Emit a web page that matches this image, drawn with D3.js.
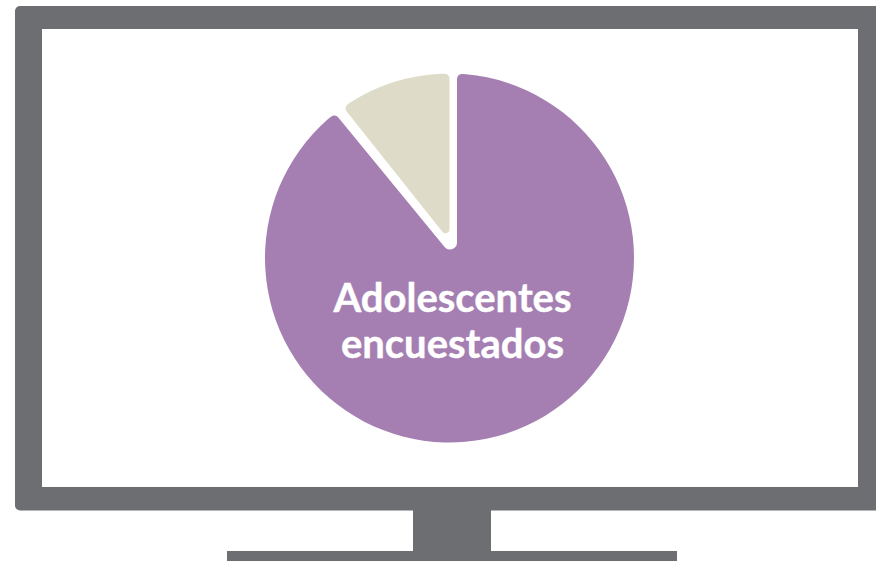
<!DOCTYPE html>
<html>
<head>
<meta charset="utf-8">
<title></title>
<script src="https://cdn.jsdelivr.net/npm/d3@7"></script>
<style>
html, body { margin: 0; padding: 0; background: #fff; }
svg { display: block; }
</style>
</head>
<body>
<script>
// data
var categories = ["Adolescentes encuestados", "Resto"];
var shares = [89.3, 10.7];
var labelLines = ["Adolescentes", "encuestados"];

var width = 876, height = 561;
var gray = "#6d6e71";
var colors = d3.scaleOrdinal().domain(categories).range(["#a57fb2", "#dedcc9"]);

var svg = d3.select("body").append("svg")
	.attr("width", width)
	.attr("height", height);

// monitor
svg.append("rect").attr("x", 227).attr("y", 551).attr("width", 450).attr("height", 10).attr("fill", gray);
svg.append("rect").attr("x", 413).attr("y", 505).attr("width", 78).attr("height", 50).attr("fill", gray);
svg.append("rect").attr("x", 15).attr("y", 6).attr("width", 880).attr("height", 504.5).attr("rx", 5).attr("fill", gray);
svg.append("rect").attr("x", 42).attr("y", 29).attr("width", 816).attr("height", 458).attr("fill", "#fff");

// pie, purple goes clockwise from 12 o'clock, the small slice closes the circle
var pie = d3.pie().sort(null).value(function(d) { return d; });
var slices = pie(shares);
var tilt = 0.9 * Math.PI / 180;

var cx = 449.5, cy = 258, r = 184.5;

// d3.arc can only pad towards the centre and leaves r0=0 tips sharp,
// here both slices share the circle but each has its own tip (ox, oy from centre)
function sliceOutline(start, end, ox, oy, corner, tipCorner) {
	function hit(angle) {
		var ux = Math.sin(angle), uy = -Math.cos(angle);
		var b = ox * ux + oy * uy;
		var t = -b + Math.sqrt(b * b - (ox * ox + oy * oy - r * r));
		return [ox + t * ux, oy + t * uy];
	}
	var h0 = hit(start), h1 = hit(end);
	var a0 = Math.atan2(h0[1], h0[0]), a1 = Math.atan2(h1[1], h1[0]);
	if (a1 < a0) a1 += 2 * Math.PI;
	var step = 0.05;
	var mx = ox + 60 * Math.sin(start), my = oy - 60 * Math.cos(start);
	var p = d3.path();
	p.moveTo(cx + mx, cy + my);
	p.arcTo(cx + h0[0], cy + h0[1], cx + r * Math.cos(a0 + step), cy + r * Math.sin(a0 + step), corner);
	p.arc(cx, cy, r, a0 + step, a1 - step);
	p.arcTo(cx + h1[0], cy + h1[1], cx + ox, cy + oy, corner);
	p.arcTo(cx + ox, cy + oy, cx + mx, cy + my, tipCorner);
	p.closePath();
	return p.toString();
}

svg.append("path")
	.datum(slices[0])
	.attr("fill", colors(categories[0]))
	.attr("d", function(d) { return sliceOutline(d.startAngle, d.endAngle - tilt, 7.5, 4, 5, 7); });

svg.append("path")
	.datum(slices[1])
	.attr("fill", colors(categories[1]))
	.attr("d", function(d) { return sliceOutline(d.startAngle, d.endAngle, 0, -17.4, 5, 4); });

// label
svg.selectAll(".label")
	.data(labelLines)
	.enter()
	.append("text")
	.attr("class", "label")
	.attr("x", 452.5)
	.attr("y", function(d, i) { return 311.5 + i * 46.7; })
	.attr("text-anchor", "middle")
	.attr("font-family", "Lato")
	.attr("font-weight", 700)
	.attr("font-size", 40)
	.attr("fill", "#fff")
	.attr("stroke", "#fff")
	.attr("stroke-width", 0.4)
	.text(function(d) { return d; });
</script>
</body>
</html>
